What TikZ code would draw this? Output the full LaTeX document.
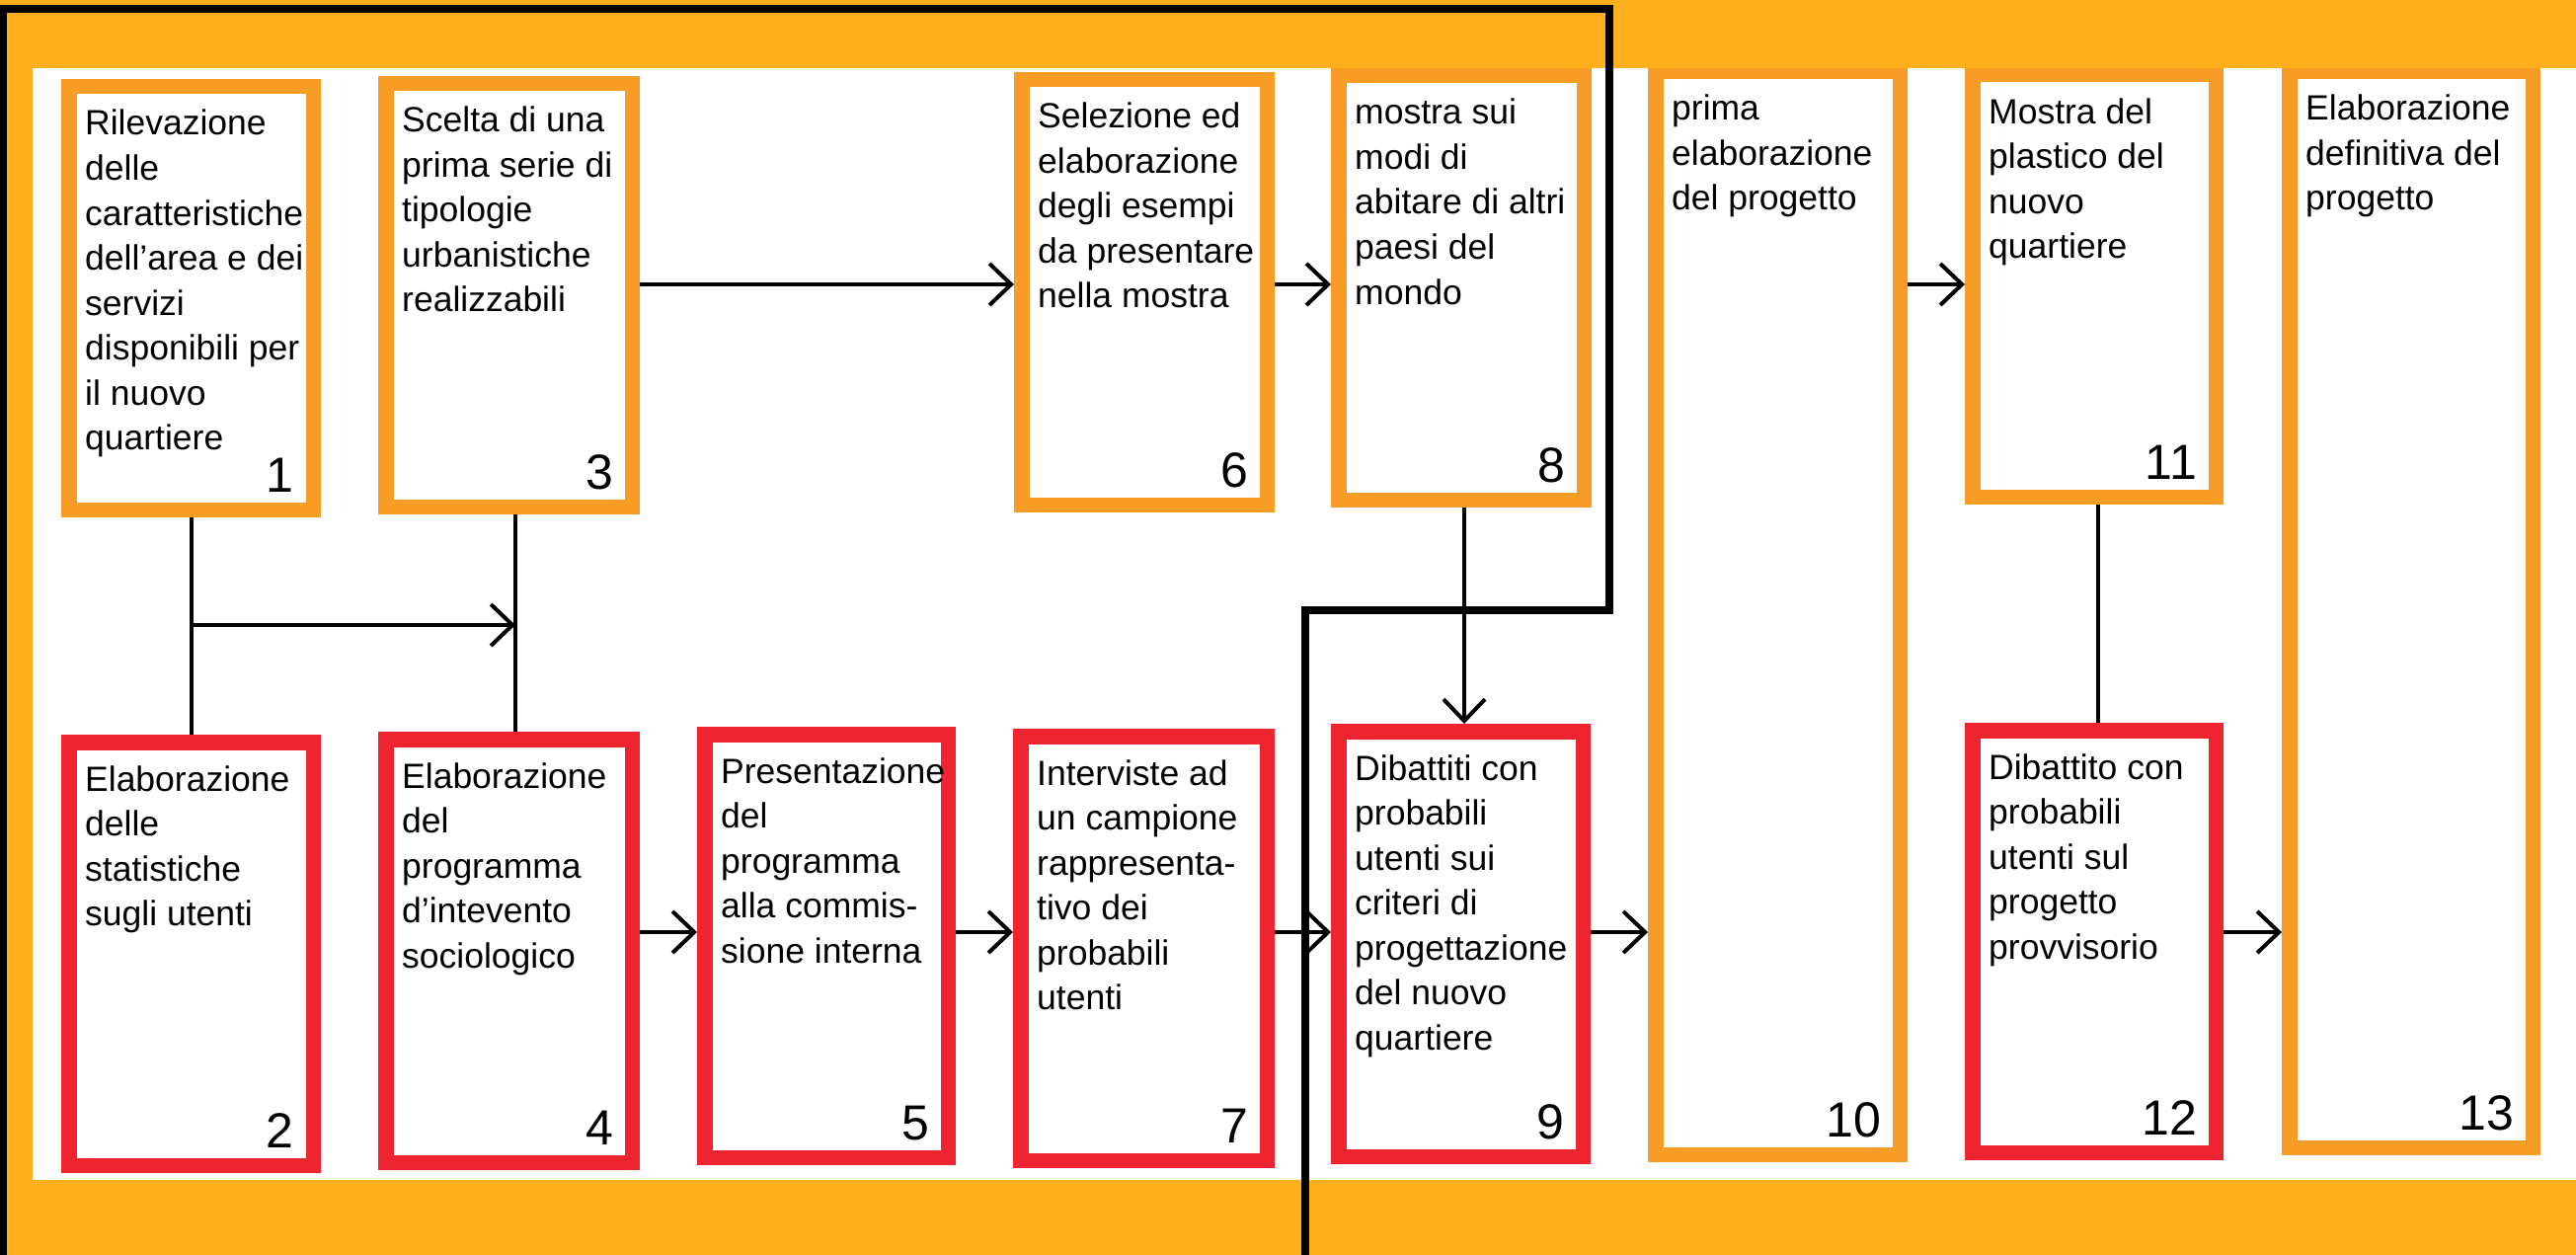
\documentclass[tikz,border=0pt]{standalone}
\usepackage{fontspec}
\setmainfont{Liberation Sans}
\usetikzlibrary{arrows.meta}
\definecolor{bgor}{RGB}{253,176,27}
\definecolor{bxor}{RGB}{247,157,38}
\definecolor{bxred}{RGB}{238,37,48}
\tikzset{
  procnode/.style={draw, fill=white, line width=15.5pt, inner sep=0pt, rectangle},
  txtnode/.style={inner sep=0pt, anchor=base west, font=\fontsize{35.5}{45.5}\selectfont, text=black},
  numnode/.style={inner sep=0pt, anchor=base east, font=\fontsize{50}{50}\selectfont, text=black},
  conn/.style={line width=4pt, black},
  arr/.style={conn, -{Straight Barb[length=22pt, width=42pt]}},
  blackline/.style={line width=8pt, black, line join=miter}
}
\newcommand{\procbox}[8]{%
  \node[procnode, draw=#6, minimum width={#4-#2-15.5}, minimum height={#5-#3-15.5}] (#1) at ({(#2+#4)/2},{(#3+#5)/2}) {};
  \node[txtnode] (#1t) at ({#2+24},{#3+57}) {\parbox[t]{260pt}{#7}};
  \node[numnode] (#1n) at ({#4-27},{#5-26}) {#8};
}
\begin{document}
\begin{tikzpicture}[x=1pt,y=-1pt]
\useasboundingbox (0,0) rectangle (2609,1271);
\fill[bgor] (0,0) rectangle (2609,1271);
\fill[white] (33,69) rectangle (2609,1195);

% top row
\procbox{b1}{62}{80}{325}{524}{bxor}{Rilevazione\\delle\\caratteristiche\\dell’area e dei\\servizi\\disponibili per\\il nuovo\\quartiere}{1}
\procbox{b3}{383}{77}{648}{521}{bxor}{Scelta di una\\prima serie di\\tipologie\\urbanistiche\\realizzabili}{3}
\procbox{b6}{1027}{73}{1291}{519}{bxor}{Selezione ed\\elaborazione\\degli esempi\\da presentare\\nella mostra}{6}
\procbox{b8}{1348}{69}{1612}{514}{bxor}{mostra sui\\modi di\\abitare di altri\\paesi del\\mondo}{8}
\procbox{b10}{1669}{65}{1932}{1177}{bxor}{prima\\elaborazione\\del progetto}{10}
\procbox{b11}{1990}{68}{2252}{511}{bxor}{Mostra del\\plastico del\\nuovo\\quartiere}{11}
\procbox{b13}{2311}{65}{2573}{1170}{bxor}{Elaborazione\\definitiva del\\progetto}{13}
% bottom row
\procbox{b2}{62}{744}{325}{1188}{bxred}{Elaborazione\\delle\\statistiche\\sugli utenti}{2}
\procbox{b4}{383}{741}{648}{1185}{bxred}{Elaborazione\\del\\programma\\d’intevento\\sociologico}{4}
\procbox{b5}{706}{736}{968}{1180}{bxred}{Presentazione\\del\\programma\\alla commis-\\sione interna}{5}
\procbox{b7}{1026}{738}{1291}{1183}{bxred}{Interviste ad\\un campione\\rappresenta-\\tivo dei\\probabili\\utenti}{7}
\procbox{b9}{1348}{733}{1611}{1179}{bxred}{Dibattiti con\\probabili\\utenti sui\\criteri di\\progettazione\\del nuovo\\quartiere}{9}
\procbox{b12}{1990}{732}{2252}{1175}{bxred}{Dibattito con\\probabili\\utenti sul\\progetto\\provvisorio}{12}

% top band over box tops
\fill[bgor] (0,0) rectangle (2609,69);

% connectors
\coordinate (rowA) at (0,288);
\coordinate (rowB) at (0,944);
\coordinate (x12) at (193.5,0);
\coordinate (x34) at (522,0);
\coordinate (x89) at (1483,0);
\coordinate (x1112) at (2125,0);
\coordinate (j12) at (193.5,633);

\draw[conn] (b1.south -| x12) -- (b2.north -| x12);
\draw[conn] (b3.south -| x34) -- (b4.north -| x34);
\draw[arr] (j12) -- (j12 -| x34);
\draw[arr] (b3.east |- rowA) -- (b6.west |- rowA);
\draw[arr] (b6.east |- rowA) -- (b8.west |- rowA);
\draw[arr] (b10.east |- rowA) -- (b11.west |- rowA);
\draw[arr] (b8.south -| x89) -- (b9.north -| x89);
\draw[conn] (b11.south -| x1112) -- (b12.north -| x1112);
\draw[arr] (b4.east |- rowB) -- (b5.west |- rowB);
\draw[arr] (b5.east |- rowB) -- (b7.west |- rowB);
\draw[arr] (b7.east |- rowB) -- (b9.west |- rowB);
\draw[arr] (b9.east |- rowB) -- (b10.west |- rowB);
\draw[arr] (b12.east |- rowB) -- (b13.west |- rowB);

% black outline
\coordinate (k1) at (3,1271);
\coordinate (k2) at (3,9);
\coordinate (k3) at (1630,9);
\coordinate (k4) at (1630,618);
\coordinate (k5) at (1322,618);
\coordinate (k6) at (1322,1271);
\draw[blackline] (k1) -- (k2) -- (k3) -- (k4) -- (k5) -- (k6);
\end{tikzpicture}
\end{document}
